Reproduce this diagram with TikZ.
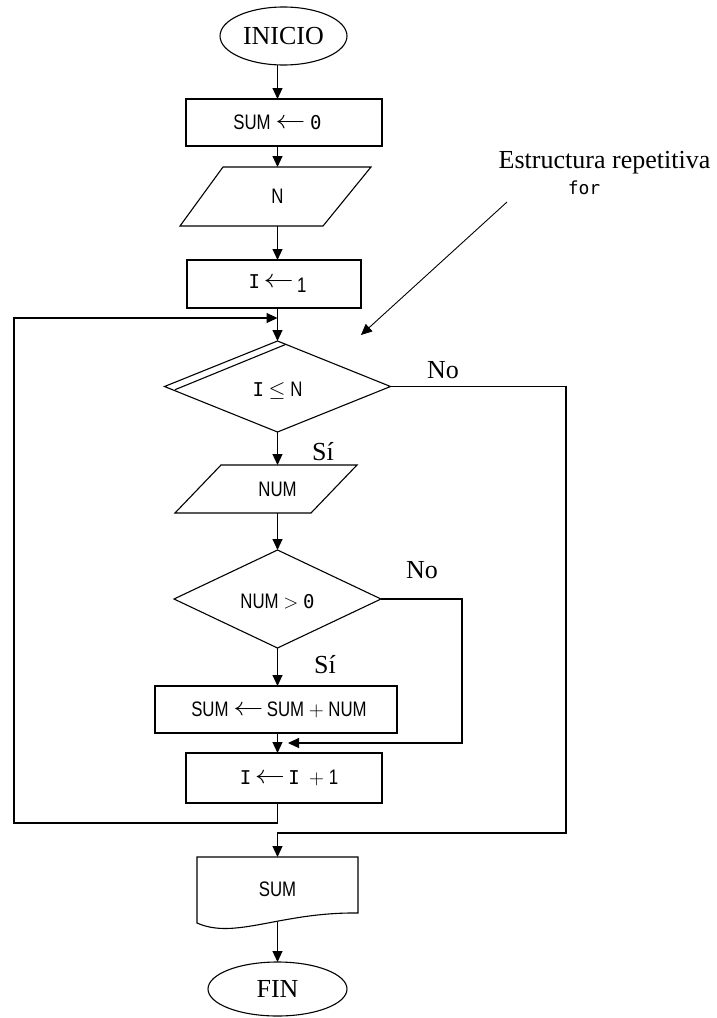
\documentclass[tikz,border=0pt]{standalone}
\usepackage{fontspec}
\setmainfont{Liberation Serif}
\newfontfamily\hv[FakeStretch=0.8]{Liberation Sans}
\newfontfamily\mono{DejaVu Sans Mono}
\newcommand\larr{\raisebox{1pt}{\scalebox{1.45}[1.25]{$\leftarrow$}}}
\newcommand\leqs{\scalebox{1.05}{$\le$}}
\newcommand\gts{\scalebox{0.95}{$>$}}
\newcommand\pls{\scalebox{1.0}{$+$}}
\newcommand\mI{{\mono\fontsize{19}{19}\selectfont I}}
\newcommand\mz{{\mono\fontsize{19}{19}\selectfont 0}}
\usetikzlibrary{arrows.meta,shapes.geometric}
\begin{document}
\begin{tikzpicture}[x=1pt,y=-1pt,line width=1.1pt,
  arr/.style={-{Triangle[length=11pt,width=10pt]}},
  lbl/.style={font=\fontsize{26}{28}\selectfont,inner sep=0pt},
  txt/.style={font=\hv\fontsize{21}{23}\selectfont,inner sep=0pt,outer sep=0pt},
  term/.style={ellipse,draw,inner sep=0pt,outer sep=0pt,font=\fontsize{26}{28}\selectfont},
  dec/.style={diamond,draw,inner sep=0pt,outer sep=0pt}]
\useasboundingbox (0,0) rectangle (717,1018);

% INICIO
\node[term,minimum width=127pt,minimum height=58pt] (ini) at (283.5,36) {INICIO};
% SUM <- 0
\draw (186,99) rectangle (382,146);
\node[txt,minimum height=47pt] (s0) at (277.5,122.5) {SUM \larr\ \mz};
% N
\draw (223,167) -- (371,167) -- (323,226) -- (180,226) -- cycle;
\node[txt,minimum height=59pt] (nn) at (277.5,196.5) {N};
% I <- 1
\draw (187,260) rectangle (361,308);
\node[txt,minimum height=48pt] (i1) at (277.5,284) {\mI\,\larr\,\raisebox{-4pt}{1}};
% decision I <= N
\node[dec,minimum width=226pt,minimum height=91pt] (d1) at (277.5,386.5) {};
\draw (285.5,344.5) -- (175,389.7);
\node[txt] (d1t) at (277.5,391) {\mI\ \leqs\ N};
% NUM input
\draw (221,465) -- (357,465) -- (311,513) -- (175,513) -- cycle;
\node[txt,minimum height=48pt] (num) at (277.5,489) {NUM};
% decision NUM > 0
\node[dec,minimum width=207pt,minimum height=98pt] (d2) at (277.5,599) {};
\node[txt] (d2t) at (277.5,602) {NUM \gts\ \mz};
% SUM <- SUM + NUM
\draw (155,686) rectangle (397,733);
\node[txt,minimum height=47pt] (ssum) at (277.5,709.5) {\hspace{3pt}SUM \larr\,SUM \pls\ NUM};
% I <- I + 1
\draw (186,753) rectangle (382,803);
\node[txt,minimum height=50pt] (ii) at (277.5,778) {\hspace{23pt}\mI\,\larr\,\mI\ \ \pls\ 1};
% document SUM
\draw (197,857) -- (358,857) -- (358,913) .. controls (280,912) and (235,940) .. (197,923) -- cycle;
\node[txt,minimum height=65pt] (doc) at (277.5,889.5) {SUM};
% FIN
\node[term,minimum width=139pt,minimum height=54pt] (fin) at (277.5,989) {FIN};

% labels
\node[lbl] (no1) at (443,370) {No};
\node[lbl] (si1) at (323,452) {Sí};
\node[lbl] (no2) at (422,570) {No};
\node[lbl] (si2) at (325,665) {Sí};
\node[lbl] (ann) at (604.5,163) {Estructura repetitiva};
\node[font=\mono\fontsize{18}{20}\selectfont,inner sep=0pt] (for) at (584,188) {for};

% coordinates
\coordinate (lb) at (14,823);
\coordinate (lt) at (14,318);
\coordinate (r2) at (462,743);
\coordinate (r2e) at (288,743);
\coordinate (r1) at (566,833);
\coordinate (a0) at (507,202);
\coordinate (a1) at (361,335);

% connectors
\draw[arr] (ini.south -| s0.north) -- (s0.north);
\draw[arr] (s0.south) -- (nn.north);
\draw[arr] (nn.south) -- (i1.north);
\draw[arr] (i1.south) -- (d1.north);
\draw[arr] (d1.south) -- (num.north);
\draw[arr] (num.south) -- (d2.north);
\draw[arr] (d2.south) -- (ssum.north);
\draw[arr] (ssum.south) -- (ii.north);
\draw[arr] (d2.east) -| (r2) -- (r2e);
\draw[arr] (ii.south) |- (lb) -- (lt) -- (lt -| d1.north);
\draw[arr] (d1.east) -| (r1) -| (doc.north);
\draw[arr] (doc.south) -- (fin.north);
\draw[arr,line width=0.9pt] (a0) -- (a1);
\end{tikzpicture}
\end{document}
